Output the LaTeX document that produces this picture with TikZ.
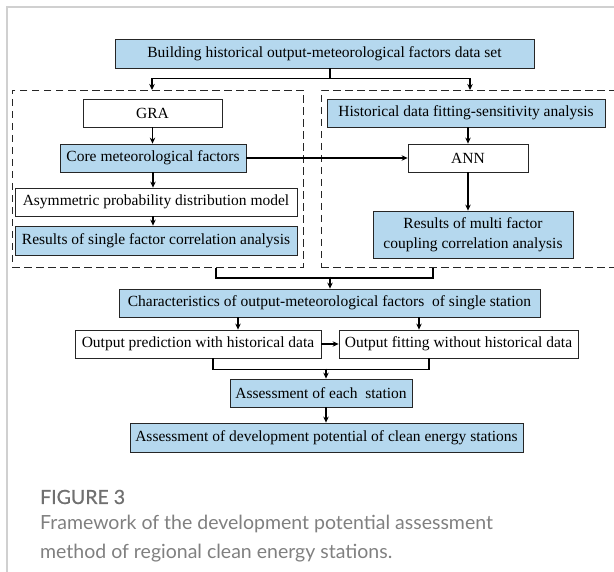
\documentclass[tikz,border=0pt]{standalone}
\usepackage{fontspec}
\setmainfont{Liberation Serif}
\newfontfamily\capfont{Lato}
\newfontfamily\capboldfont{Lato}[FakeBold=0.7]
\usetikzlibrary{arrows.meta,calc}
\definecolor{boxblue}{RGB}{181,216,238}
\definecolor{framegray}{RGB}{208,208,208}
\definecolor{capdark}{RGB}{112,112,112}
\definecolor{caplight}{RGB}{128,128,128}
\tikzset{
  box/.style={draw=black!85, line width=0.8pt, minimum height=28pt, inner sep=0pt,
    font=\fontsize{15.5}{17.5}\selectfont, anchor=center, align=center},
  bbox/.style={box, fill=boxblue},
  wbox/.style={box, fill=white},
  conn/.style={line width=1.3pt, -{Stealth[length=6pt,width=5.5pt]}},
  plainline/.style={line width=1.3pt},
  dbox/.style={draw=black!85, line width=1pt, dash pattern=on 7.5pt off 4.5pt, inner sep=0pt},
  captext/.style={anchor=west, inner sep=0pt, font=\capfont\fontsize{19.5}{22}\selectfont},
  capbold/.style={anchor=west, inner sep=0pt, font=\capboldfont\fontsize{19.5}{22}\selectfont}
}
\begin{document}
\begin{tikzpicture}[x=1pt,y=-1pt]
\useasboundingbox (0,0) rectangle (614,572);
\clip (0,0) rectangle (614,572);
% frame
\draw[framegray, line width=1.5pt] (7,572) -- (7,7) -- (614,7);
% dashed group boxes
\node[dbox, minimum width=291pt, minimum height=177.5pt] (L) at (157.5,179.25) {};
\node[dbox, minimum width=299pt, minimum height=177.5pt] (R) at (470.5,179.25) {};
% boxes
\node[bbox, minimum width=419pt, minimum height=29pt] (top) at (324.5,53.5) {Building historical output-meteorological factors data set};
\node[wbox, minimum width=139pt] (gra) at (152.5,113) {GRA};
\node[bbox, minimum width=186pt] (core) at (153,158) {Core meteorological factors};
\node[wbox, minimum width=282pt] (asym) at (156,202) {Asymmetric probability distribution model};
\node[bbox, minimum width=282pt, minimum height=29pt] (res1) at (156,240.5) {Results of single factor correlation analysis};
\node[bbox, minimum width=278pt] (hist) at (466,113) {Historical data fitting-sensitivity analysis};
\node[wbox, minimum width=120pt] (ann) at (468,158) {ANN};
\node[bbox, minimum width=200pt, minimum height=47pt, font=\fontsize{15.5}{19.5}\selectfont] (res2) at (473,234.5) {Results of multi factor\\coupling correlation analysis};
\node[bbox, minimum width=421pt] (char) at (329.5,303) {Characteristics of output-meteorological factors\ \ of single station};
\node[wbox, minimum width=246pt] (pred) at (198,344) {Output prediction with historical data};
\node[wbox, minimum width=239pt] (fit) at (458.5,344) {Output fitting without historical data};
\node[bbox, minimum width=182pt] (assess) at (321,393) {Assessment of each\ \ station};
\node[bbox, minimum width=393pt, minimum height=29pt] (final) at (326.5,437.5) {Assessment of development potential of clean energy stations};
% connectors top
\coordinate (s1) at ([xshift=5.5pt]top.south);
\coordinate (jt) at ($(s1)+(0,10)$);
\draw[plainline] (s1) -- (jt);
\draw[conn] (jt) -| ([xshift=-5.5pt]L.north);
\draw[conn] (jt) -| ([xshift=-0.5pt]R.north);
% left column
\draw[conn] (gra.south) -- (gra.south |- core.north);
\draw[conn] (core.south) -- (core.south |- asym.north);
\draw[conn] (core.south |- asym.south) -- (core.south |- res1.north);
% right column
\draw[conn] (core.east) -- (ann.west);
\draw[conn] (hist.south -| ann.north) -- (ann.north);
\draw[conn] (ann.south) -- (ann.south |- res2.north);
% merge of groups
\coordinate (jm) at ($(char.north)+(0.5,-12)$);
\draw[plainline] ([xshift=58.5pt]L.south) -- ++(0,9.5) -| ([xshift=-37.5pt]R.south);
\draw[conn] (jm) -- (jm |- char.north);
% split to outputs
\draw[conn] (char.south -| pred.north) ++(40,0) coordinate (c1) -- (c1 |- pred.north);
\draw[conn] ([xshift=89.5pt]char.south) -- ([xshift=89.5pt]char.south |- fit.north);
\draw[conn] (pred.east) -- (fit.west);
% merge outputs
\draw[plainline] ([xshift=15pt]pred.south) -- ++(0,11) -| ([xshift=-29.5pt]fit.south);
\coordinate (jo) at ($(assess.north)+(5,-10)$);
\draw[conn] (jo) -- (jo |- assess.north);
\draw[conn] ([xshift=5pt]assess.south) -- ([xshift=5pt]assess.south |- final.north);
% caption
\node[capbold, text=capdark] (fig) at (40,497) {FIGURE 3};
\node[captext, text=caplight] (cap1) at (40,524) {Framework of the development potential assessment};
\node[captext, text=caplight] (cap2) at (40,553) {method of regional clean energy stations.};
\end{tikzpicture}
\end{document}
